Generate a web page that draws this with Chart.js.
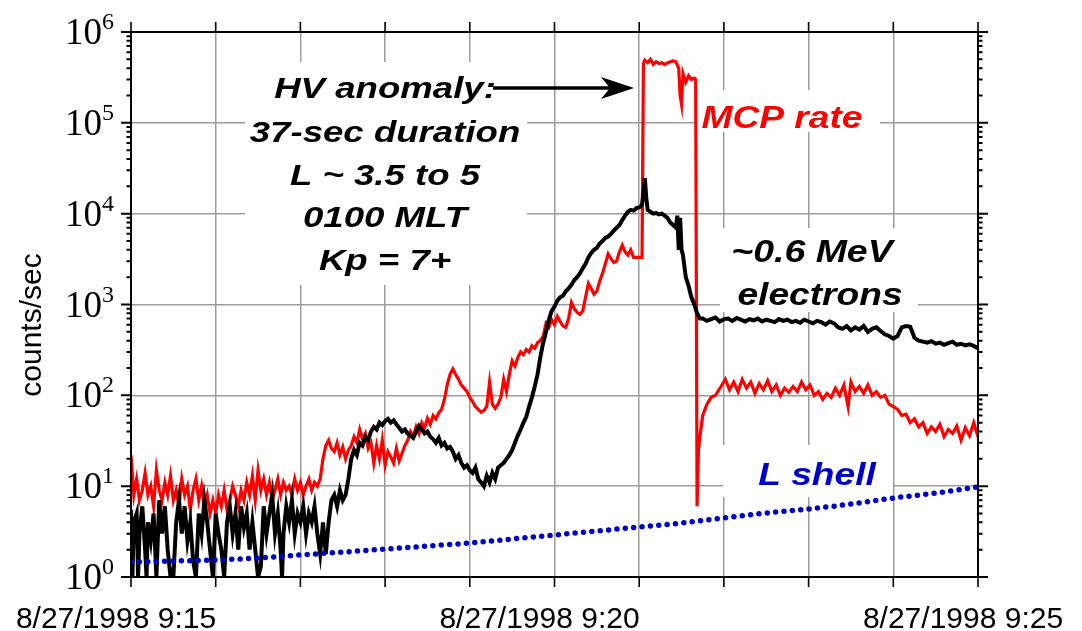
<!DOCTYPE html>
<html>
<head>
<meta charset="utf-8">
<script src="https://cdn.jsdelivr.net/npm/chart.js@4.4.1/dist/chart.umd.min.js"></script>
<style>
  html, body { margin: 0; padding: 0; background: #ffffff; }
  #wrap { width: 1082px; height: 631px; position: relative; }
</style>
</head>
<body>
<div id="wrap"><canvas id="c" width="1082" height="631"></canvas></div>
<script>
// ---------------- DATA (time in seconds after 8/27/1998 9:15:00) ----------------
const xTickLabels = ['8/27/1998 9:15', '8/27/1998 9:20', '8/27/1998 9:25'];
const yDecades = [1, 10, 100, 1000, 10000, 100000, 1000000];
const yTitle = 'counts/sec';
const hvNote = ['HV anomaly:', '37-sec duration', 'L ~ 3.5 to 5', '0100 MLT', 'Kp = 7+'];
const mcpLabel = 'MCP rate';
const electronLabel = ['~0.6 MeV', 'electrons'];
const lshellLabel = 'L shell';

// MCP rate (red)
const mcpRate = [
 [0,22],[2,8],[4,12],[6,7],[8,9],[10,14],[12,8],[14,10],[16,6],[18,15],[20,9],[22,7],[24,11],[26,8],[28,13],
 [30,7],[32,9],[34,6],[36,12],[38,8],[40,10],[42,5.5],[44,9],[46,12],[48,7],[50,10],[52,6],[54,8],[56,5],[58,7],
 [60,5],[62,8],[64,6],[66,9],[68,5.5],[70,7],[72,10],[74,8],[76,6],[78,9],[80,7],[82,11],[84,8],[86,13],[88,7],
 [90,15],[92,9],[94,12],[96,8],[98,11],[100,7],[102,9],[104,12],[106,8],[108,11],[110,9],[112,10],[114,8],[116,12],
 [118,9],[120,11],[122,8],[124,10],[126,12],[128,9],[130,11],[132,10],[134,12],[136,20],[138,28],[140,32],[142,26],
 [144,24],[146,30],[148,22],[150,27],[152,20],[154,25],[156,28],[158,35],[160,30],[162,42],[164,33],[166,38],[168,26],
 [170,30],[172,18],[174,28],[176,20],[178,32],[180,17],[182,24],[184,21],[186,18],[188,26],[190,19],[192,23],[194,28],
 [196,32],[198,40],[200,35],[202,45],[204,38],[206,50],[208,44],[210,56],[212,48],[214,60],[216,55],[218,64],[220,70],
 [222,90],[224,130],[226,170],[228,195],[230,170],[232,150],[234,130],[236,120],[238,110],[240,95],[242,85],[244,75],
 [246,70],[248,65],[250,68],[252,75],[254,140],[256,80],[258,72],[260,80],[262,95],[264,150],[266,110],[268,170],
 [270,240],[272,210],[274,260],[276,300],[278,280],[280,320],[282,300],[284,350],[286,330],[288,380],[290,400],
 [292,450],[294,620],[296,560],[298,680],[300,600],[302,740],[304,650],[306,580],[308,560],[310,700],[312,1050],
 [314,900],[316,820],[318,780],[320,850],[322,1200],[324,1700],[326,1500],[328,1300],[330,1400],[332,1800],[334,2200],
 [336,2800],[338,3600],[340,3200],[342,2900],[344,3000],[346,3800],[348,4500],[350,3800],[352,3500],[354,4000],
 [356,3300],[358,3300],[360,3300],[362,3300],[363,450000],[364,490000],[366,460000],[368,500000],[370,440000],
 [372,470000],[374,450000],[376,460000],[378,440000],[380,455000],[382,470000],[384,480000],[386,470000],[388,400000],
 [389,200000],[390,160000],[391,350000],[393,280000],[395,330000],[397,300000],[399,310000],[400,300000],[401,6],
 [402,25],[403,35],[405,60],[408,80],[411,95],[414,100],[418,125],[421,150],[424,115],[427,140],[430,110],[433,150],
 [436,120],[439,140],[442,105],[445,135],[448,115],[451,145],[454,110],[457,130],[460,100],[463,120],[466,108],
 [469,125],[472,110],[475,140],[478,115],[481,130],[484,100],[487,110],[490,90],[493,105],[496,95],[499,120],
 [502,100],[505,130],[508,75],[510,140],[513,110],[516,125],[519,105],[522,130],[525,100],[528,110],[531,95],
 [534,100],[537,80],[540,75],[543,70],[546,60],[549,62],[552,50],[555,55],[558,45],[561,50],[564,38],[567,45],
 [570,40],[573,48],[576,35],[579,42],[582,38],[585,46],[588,32],[591,44],[594,36],[597,50],[600,35]
];

// ~0.6 MeV electrons (black)
const electrons = [
 [0,5.5],[1,1],[2,4],[4,5],[5,1],[6,3],[8,6],[10,2],[11,1],[12,4],[14,2.5],[16,5],[18,1],[20,7],[22,3],[24,6],
 [26,2],[28,1],[30,1],[32,4],[34,7],[36,3],[38,6],[40,2.5],[42,4],[44,1.5],[46,1],[48,5],[50,3],[52,7],[54,4],
 [56,2],[58,1],[60,5],[62,3],[64,2],[66,1],[68,4],[70,6],[72,3],[74,5],[76,2],[78,6],[80,3.5],[82,5],[84,2],
 [86,4],[88,2],[90,1],[92,1.3],[94,6],[96,3],[98,5],[100,8],[102,3],[104,5],[106,2],[107,1],[108,3],[110,6],
 [112,4],[114,7],[116,3],[118,5],[120,4],[122,6],[124,3],[126,5],[128,4],[130,6],[132,3],[134,1.8],[136,4],
 [138,1.8],[140,4],[142,7],[144,8],[146,6],[148,9],[150,7],[152,8],[154,12],[156,20],[158,25],[160,22],[162,30],
 [164,28],[166,35],[168,32],[170,40],[172,45],[174,42],[176,50],[178,47],[180,52],[182,55],[184,50],[186,53],
 [188,48],[190,44],[192,40],[194,42],[196,38],[198,36],[200,34],[202,40],[204,46],[206,42],[208,38],[210,40],
 [212,35],[214,33],[216,30],[218,34],[220,28],[222,30],[224,26],[226,27],[228,24],[230,20],[232,22],[234,18],
 [236,16],[238,17],[240,15],[242,14],[244,16],[246,12],[248,11],[250,10],[252,13],[254,11],[256,14],[258,12],
 [260,16],[262,17],[264,18],[266,20],[268,22],[270,25],[272,30],[274,36],[276,42],[278,50],[280,58],[282,75],
 [284,95],[286,125],[288,170],[290,265],[292,380],[294,500],[296,680],[298,850],[300,950],[302,1100],[304,1200],
 [306,1250],[308,1400],[310,1500],[312,1650],[314,1850],[316,2000],[318,2200],[320,2500],[322,2800],[324,3300],
 [326,3700],[328,4000],[330,4200],[332,4700],[334,5000],[336,5400],[338,5600],[340,6000],[342,6500],[344,7000],
 [346,7500],[348,8500],[350,9500],[352,10500],[354,11000],[356,10800],[358,11500],[360,11700],[362,12500],
 [363,17000],[364,24600],[365,15000],[366,11000],[368,10500],[370,10000],[372,10200],[374,9800],[376,10000],
 [378,9500],[380,9000],[382,8000],[384,7500],[386,7000],[387,9500],[388,4000],[389,9000],[390,4000],[391,3500],
 [393,2000],[395,1600],[397,1200],[399,1000],[401,800],[403,700],[405,700],[408,660],[411,690],[414,720],
 [417,650],[420,690],[423,700],[426,660],[429,710],[432,680],[435,650],[438,690],[441,670],[444,700],[447,650],
 [450,680],[453,660],[456,640],[459,690],[462,660],[465,680],[468,640],[471,660],[474,630],[477,680],[480,650],
 [483,620],[486,660],[489,640],[492,600],[495,650],[498,620],[501,560],[504,540],[507,580],[510,520],[513,560],
 [516,530],[519,580],[522,500],[525,540],[528,560],[531,510],[534,470],[537,450],[540,420],[543,450],[546,560],
 [549,580],[552,570],[555,430],[558,400],[561,390],[564,380],[567,395],[570,370],[573,380],[576,360],[579,375],
 [582,390],[585,360],[588,370],[591,355],[594,365],[597,350],[600,330]
];

// L shell (blue dotted)
const lShell = [
 [0,1.46],[30,1.50],[60,1.54],[90,1.62],[120,1.75],[150,1.88],[180,2.03],[210,2.19],[240,2.37],[270,2.62],
 [300,2.90],[330,3.21],[360,3.55],[390,3.93],[420,4.46],[450,5.06],[480,5.6],[510,6.36],[540,7.4],[570,8.4],[600,9.8]
];

const toXY = arr => arr.map(p => ({ x: p[0], y: p[1] }));

// ---------------- helpers ----------------
function stretchedText(ctx, text, cx, baseline, font, color, sx) {
  ctx.save();
  ctx.font = font;
  ctx.fillStyle = color;
  ctx.textAlign = 'center';
  ctx.textBaseline = 'alphabetic';
  ctx.translate(cx, baseline);
  ctx.scale(sx, 1);
  ctx.fillText(text, 0, 0);
  ctx.restore();
}

const decorPlugin = {
  id: 'decor',
  beforeDatasetsDraw(chart) {
    const ctx = chart.ctx;
    ctx.save();
    ctx.fillStyle = '#ffffff';
    ctx.fillRect(245, 62, 282, 223);   // HV note
    ctx.fillRect(697, 90, 183, 42);    // MCP rate
    ctx.fillRect(720, 228, 198, 84);   // electrons
    ctx.fillRect(723, 445, 170, 52);   // L shell
    ctx.restore();
  },
  afterDatasetsDraw(chart) {
    const ctx = chart.ctx;
    const ys = chart.scales.y, xs = chart.scales.x;
    const a = chart.chartArea;
    ctx.save();
    // frame
    ctx.strokeStyle = '#000';
    ctx.lineWidth = 2;
    ctx.strokeRect(a.left, a.top, a.right - a.left, a.bottom - a.top);
    ctx.beginPath();
    // y major + minor ticks (left and right)
    yDecades.forEach((d, i) => {
      const y = ys.getPixelForValue(d);
      ctx.moveTo(a.left - 10, y); ctx.lineTo(a.left, y);
      ctx.moveTo(a.right, y); ctx.lineTo(a.right + 10, y);
      if (i < yDecades.length - 1) {
        for (let m = 2; m <= 9; m++) {
          const ym = ys.getPixelForValue(m * d);
          ctx.moveTo(a.left - 4.5, ym); ctx.lineTo(a.left, ym);
          ctx.moveTo(a.right, ym); ctx.lineTo(a.right + 4.5, ym);
        }
      }
    });
    ctx.stroke();
    ctx.lineWidth = 1.6;
    ctx.beginPath();
    for (let t = 0; t <= 600; t += 60) {
      const x = xs.getPixelForValue(t);
      ctx.moveTo(x, a.bottom); ctx.lineTo(x, a.bottom + 10);
      ctx.moveTo(x, a.top); ctx.lineTo(x, a.top - 10);
    }
    ctx.stroke();

    // HV annotation
    const hvFont = 'italic bold 30px "Liberation Sans", Arial, sans-serif';
    const base = [98, 141.5, 185, 227, 270];
    hvNote.forEach((s, i) => stretchedText(ctx, s, 385, base[i], hvFont, '#000', 1.22));
    // arrow
    ctx.strokeStyle = '#000';
    ctx.lineWidth = 3.5;
    ctx.beginPath();
    ctx.moveTo(493, 88); ctx.lineTo(612, 88);
    ctx.stroke();
    ctx.fillStyle = '#000';
    ctx.beginPath();
    ctx.moveTo(634, 88); ctx.lineTo(601, 77); ctx.lineTo(610, 88); ctx.lineTo(601, 99);
    ctx.closePath();
    ctx.fill();

    const lblFont = 'italic bold 32px "Liberation Sans", Arial, sans-serif';
    stretchedText(ctx, mcpLabel, 782, 128, lblFont, '#ff0000', 1.16);
    stretchedText(ctx, electronLabel[0], 812, 262, lblFont, '#000', 1.17);
    stretchedText(ctx, electronLabel[1], 820, 305, lblFont, '#000', 1.16);
    stretchedText(ctx, lshellLabel, 817, 485, lblFont, '#0000cc', 1.16);
    ctx.restore();
  },
  afterDraw(chart) {
    const ctx = chart.ctx;
    const ys = chart.scales.y;
    ctx.save();
    ctx.fillStyle = '#000';
    ctx.textBaseline = 'alphabetic';
    yDecades.forEach((d, e) => {
      const y = ys.getPixelForValue(d);
      ctx.font = '37px "Liberation Serif", "Times New Roman", serif';
      ctx.textAlign = 'right';
      ctx.fillText('10', 102, y + 12);
      ctx.font = '24px "Liberation Serif", "Times New Roman", serif';
      ctx.textAlign = 'left';
      ctx.fillText(String(e), 102, y - 3);
    });
    // y-axis title
    ctx.translate(33, 325);
    ctx.rotate(-Math.PI / 2);
    ctx.font = '30px "Liberation Sans", Arial, sans-serif';
    ctx.textAlign = 'center';
    ctx.textBaseline = 'middle';
    ctx.fillText(yTitle, 0, 0);
    ctx.restore();
  }
};

new Chart(document.getElementById('c'), {
  type: 'line',
  data: {
    datasets: [
      {
        label: lshellLabel, data: toXY(lShell), borderColor: '#0000cc', borderWidth: 5.5,
        borderDash: [0, 8.4], borderCapStyle: 'round', pointRadius: 0, cubicInterpolationMode: 'monotone',
        fill: false, order: 0
      },
      {
        label: electronLabel.join(' '), data: toXY(electrons), borderColor: '#000000', borderWidth: 4,
        pointRadius: 0, tension: 0, fill: false, order: 1, borderJoinStyle: 'miter'
      },
      {
        label: mcpLabel, data: toXY(mcpRate), borderColor: '#ff0000', borderWidth: 3.2,
        pointRadius: 0, tension: 0, fill: false, order: 2, borderJoinStyle: 'miter'
      }
    ]
  },
  options: {
    responsive: false,
    animation: false,
    layout: { padding: { left: 0, top: 32, right: 104, bottom: 0 } },
    plugins: { legend: { display: false }, tooltip: { enabled: false } },
    scales: {
      x: {
        type: 'linear', min: 0, max: 600,
        afterFit: s => { s.height = 54; s.paddingLeft = 0; s.paddingRight = 0; },
        border: { display: false },
        grid: { color: '#9c9c9c', lineWidth: 1.5, drawTicks: false },
        ticks: {
          stepSize: 60, autoSkip: false, maxRotation: 0, minRotation: 0,
          padding: 25, labelOffset: -15, color: '#000',
          font: { family: '"Liberation Sans", Arial, sans-serif', size: 30 },
          callback: v => (v % 300 === 0 ? xTickLabels[v / 300] : '')
        }
      },
      y: {
        type: 'logarithmic', min: 1, max: 1000000,
        afterFit: s => { s.width = 131; s.paddingTop = 0; s.paddingBottom = 0; },
        afterBuildTicks: s => { s.ticks = yDecades.map(v => ({ value: v })); },
        border: { display: false },
        grid: { color: '#9c9c9c', lineWidth: 1.5, drawTicks: false },
        ticks: { display: false }
      }
    }
  },
  plugins: [decorPlugin]
});
</script>
</body>
</html>
